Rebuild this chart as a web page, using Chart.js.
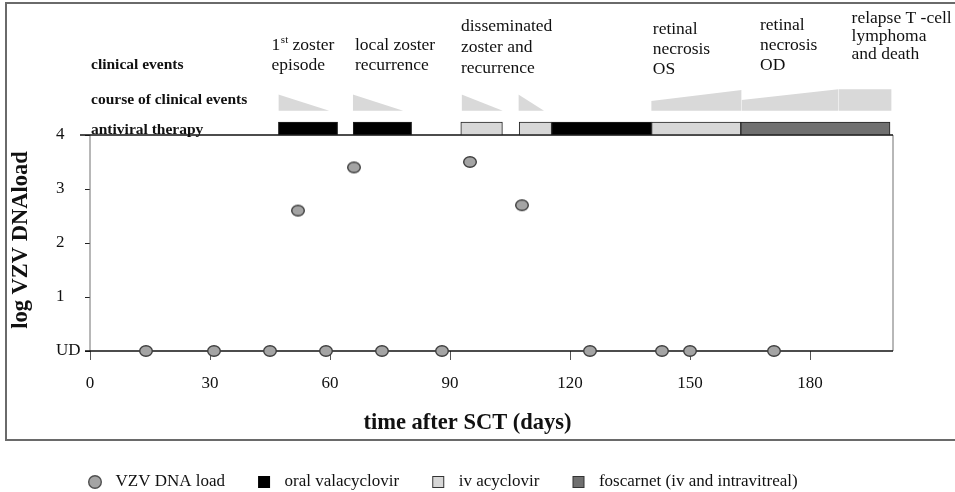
<!DOCTYPE html>
<html>
<head>
<meta charset="utf-8">
<script src="https://cdn.jsdelivr.net/npm/chart.js@4.4.1/dist/chart.umd.min.js"></script>
<style>
  html, body { margin: 0; padding: 0; background: #ffffff; }
  canvas { display: block; }
</style>
</head>
<body>
<canvas id="chart" width="955" height="492"></canvas>
<script>
// ---- data -------------------------------------------------------------
// VZV DNA load per sample (log copies, 0 = undetectable "UD")
const sampleDays = [14, 31, 45, 52, 59, 66, 73, 88, 95, 108, 125, 143, 150, 171];
const logLoad    = [0, 0, 0, 2.6, 0, 3.4, 0, 0, 3.5, 2.7, 0, 0, 0, 0];

// antiviral therapy periods, [first day, last day]
const valacyclovirPeriods = [[47.1, 61.9], [65.8, 80.4], [115.4, 140.4]];
const acyclovirPeriods    = [[92.7, 103.1], [107.3, 115.4], [140.4, 162.7]];
const foscarnetPeriods    = [[162.7, 200]];

// course of clinical events: segment start/end day and severity at both ends
const courseStart   = [47.1, 65.7, 92.9, 107.1, 140.3, 162.9, 187.1];
const courseEnd     = [59.8, 78.3, 103.2, 113.5, 162.9, 187.1, 200.4];
const severityStart = [3, 3, 3, 3, 1.8, 2, 3.95];
const severityEnd   = [0, 0, 0, 0, 3.85, 3.95, 3.95];

// clinical events, anchored at the day they start
const eventDays = [45.4, 66.25, 92.75, 140.7, 167.5, 190.4];
const eventLabels = [
  ['1st zoster', 'episode'],
  ['local zoster', 'recurrence'],
  ['disseminated', 'zoster and', 'recurrence'],
  ['retinal', 'necrosis', 'OS'],
  ['retinal', 'necrosis', 'OD'],
  ['relapse T -cell', 'lymphoma', 'and death']
];

const rowLabels   = ['clinical events', 'course of clinical events', 'antiviral therapy'];
const xTicks      = [0, 30, 60, 90, 120, 150, 180];
const yTicks      = [0, 1, 2, 3, 4];
const yTickText   = ['UD', '1', '2', '3', '4'];
const xTitle      = 'time after SCT (days)';
const yTitle      = 'log VZV DNAload';
const seriesNames = ['VZV DNA load', 'oral valacyclovir', 'iv acyclovir', 'foscarnet (iv and intravitreal)'];

// ---- layout & style ----------------------------------------------------
const FONT = "'Liberation Serif', 'Times New Roman', serif";
Chart.defaults.font.family = FONT;
Chart.defaults.color = '#111';

const Y_MAX = 4.9;            // room above the plot for the annotation band
const THERAPY_ROW = 4.12;     // centre of the therapy bars (y units)
const COURSE_BASE = 4.45;     // baseline of the course wedges (y units)
const SEVERITY_UNIT = 0.1;    // y units per severity step

const ROW_LABEL_Y = [65, 100, 130];
const EVENT_TOP   = [45, 45, 26.5, 29.5, 25, 18.3];
const EVENT_STEP  = [20, 20, 20.8, 19.8, 20, 18];
const X_TITLE_POS = [467.5, 423];
const Y_TITLE_X   = 21;

const COLORS = {
  point: '#a4a4a4', pointEdge: '#3e3e3e',
  oral: '#000000', iv: '#d7d7d7', foscarnet: '#707070',
  barEdge: '#222222', course: '#d9d9d9'
};

function ellipseIcon(w, h, fill, stroke) {
  const c = document.createElement('canvas');
  c.width = w + 2; c.height = h + 2;
  const g = c.getContext('2d');
  g.beginPath();
  g.ellipse(c.width / 2, c.height / 2, w / 2 - 0.7, h / 2 - 0.7, 0, 0, Math.PI * 2);
  g.fillStyle = fill; g.fill();
  g.lineWidth = 1.4; g.strokeStyle = stroke; g.stroke();
  return c;
}
function squareIcon(s, fill, stroke) {
  const c = document.createElement('canvas');
  c.width = s + 2; c.height = s + 2;
  const g = c.getContext('2d');
  g.fillStyle = fill; g.fillRect(1, 1, s, s);
  g.lineWidth = 1; g.strokeStyle = stroke; g.strokeRect(1.5, 1.5, s - 1, s - 1);
  return c;
}

const pointIcon = ellipseIcon(14, 12, COLORS.point, COLORS.pointEdge);

function therapyDataset(label, periods, color, icon) {
  return {
    type: 'bar', label, indexAxis: 'y', grouped: false,
    data: periods.map(p => ({ x: p, y: THERAPY_ROW })),
    backgroundColor: color, borderColor: COLORS.barEdge, borderWidth: 1,
    borderSkipped: false, barThickness: 13, legendIcon: icon, order: 2
  };
}

const courseDatasets = courseStart.map((s, i) => ({
  type: 'line', label: 'course',
  data: [
    { x: s, y: COURSE_BASE + severityStart[i] * SEVERITY_UNIT },
    { x: courseEnd[i], y: COURSE_BASE + severityEnd[i] * SEVERITY_UNIT }
  ],
  fill: { value: COURSE_BASE }, backgroundColor: COLORS.course,
  borderWidth: 0, pointRadius: 0, tension: 0, order: 3
}));

const datasets = [
  {
    type: 'scatter', label: seriesNames[0],
    data: sampleDays.map((d, i) => ({ x: d, y: logLoad[i] })),
    pointStyle: pointIcon, pointRadius: 7, clip: false, order: 0,
    legendIcon: ellipseIcon(14, 14, COLORS.point, '#505050')
  },
  therapyDataset(seriesNames[1], valacyclovirPeriods, COLORS.oral, squareIcon(12, COLORS.oral, '#000')),
  therapyDataset(seriesNames[2], acyclovirPeriods, COLORS.iv, squareIcon(12, COLORS.iv, '#333')),
  therapyDataset(seriesNames[3], foscarnetPeriods, COLORS.foscarnet, squareIcon(12, COLORS.foscarnet, '#333')),
  ...courseDatasets
];

// writes "1st ..." with a raised ordinal suffix
function drawEventLine(ctx, text, x, y) {
  const m = /^(\d+)(st|nd|rd|th)(.*)$/.exec(text);
  if (!m) { ctx.fillText(text, x, y); return; }
  const baseFont = ctx.font;
  ctx.fillText(m[1], x, y);
  let cx = x + ctx.measureText(m[1]).width + 0.5;
  ctx.font = `11px ${FONT}`;
  ctx.fillText(m[2], cx, y - 5);
  cx += ctx.measureText(m[2]).width;
  ctx.font = baseFont;
  ctx.fillText(m[3], cx, y);
}

const frameAndLabels = {
  id: 'frameAndLabels',
  beforeDatasetsDraw(chart) {
    const { ctx, chartArea, scales: { x, y } } = chart;
    const yBase = y.getPixelForValue(yTicks[0]);
    const yTop = y.getPixelForValue(yTicks[yTicks.length - 1]);
    const xLeft = x.getPixelForValue(0);
    const xRight = chartArea.right;
    const seg = (x1, y1, x2, y2) => { ctx.beginPath(); ctx.moveTo(x1, y1); ctx.lineTo(x2, y2); ctx.stroke(); };
    ctx.save();
    // outer figure border
    ctx.strokeStyle = '#6a6a6a'; ctx.lineWidth = 2;
    ctx.strokeRect(6, 3, chart.width + 10, 437);
    // plot side lines
    ctx.strokeStyle = '#707070'; ctx.lineWidth = 1;
    seg(xLeft, yTop, xLeft, yBase);
    seg(xRight, yTop, xRight, yBase);
    // top line (through the "4" tick) and UD baseline
    ctx.strokeStyle = '#111'; ctx.lineWidth = 1.4;
    seg(xLeft - 10, yTop, xRight, yTop);
    seg(xLeft - 5, yBase, xRight, yBase);
    ctx.restore();
  },
  afterDraw(chart) {
    const { ctx, scales: { x, y } } = chart;
    const xLeft = x.getPixelForValue(0);
    const yMid = (y.getPixelForValue(yTicks[0]) + y.getPixelForValue(yTicks[yTicks.length - 1])) / 2;
    ctx.save();
    ctx.fillStyle = '#111';
    ctx.textBaseline = 'middle';
    ctx.textAlign = 'left';
    ctx.font = `bold 15.5px ${FONT}`;
    rowLabels.forEach((t, i) => ctx.fillText(t, xLeft + 1, ROW_LABEL_Y[i]));
    ctx.font = `17.5px ${FONT}`;
    eventLabels.forEach((lines, i) => {
      const lx = x.getPixelForValue(eventDays[i]);
      lines.forEach((t, j) => drawEventLine(ctx, t, lx, EVENT_TOP[i] + j * EVENT_STEP[i]));
    });
    ctx.font = `bold 22.5px ${FONT}`;
    ctx.textAlign = 'center';
    ctx.fillText(xTitle, X_TITLE_POS[0], X_TITLE_POS[1]);
    ctx.translate(Y_TITLE_X, yMid - 3);
    ctx.rotate(-Math.PI / 2);
    ctx.fillText(yTitle, 0, 0);
    ctx.restore();
  }
};

new Chart(document.getElementById('chart'), {
  type: 'scatter',
  data: { datasets },
  plugins: [frameAndLabels],
  options: {
    responsive: false,
    animation: false,
    devicePixelRatio: 1,
    layout: { padding: { left: 56, right: 62, top: 86.4, bottom: -8.5 } },
    scales: {
      x: {
        type: 'linear', min: 0, max: 200.75, offset: false,
        afterBuildTicks: s => { s.ticks = xTicks.map(v => ({ value: v })); },
        afterFit: s => { s.height = 95.5; },
        grid: { drawOnChartArea: false, offset: false, tickLength: 9, color: '#555' },
        border: { display: false },
        ticks: { font: { size: 17 }, color: '#111', padding: 13, maxRotation: 0, autoSkip: false }
      },
      y: {
        type: 'linear', min: 0, max: Y_MAX, offset: false,
        afterBuildTicks: s => { s.ticks = yTicks.map(v => ({ value: v })); },
        afterFit: s => { s.width = 34; },
        grid: { drawOnChartArea: false, offset: false, tickLength: 5, color: '#222' },
        border: { display: false },
        ticks: {
          crossAlign: 'far', font: { size: 17 }, color: '#111', autoSkip: false,
          callback: v => yTickText[yTicks.indexOf(v)]
        }
      }
    },
    plugins: {
      tooltip: { enabled: false },
      legend: {
        position: 'bottom', align: 'start',
        labels: {
          usePointStyle: true, pointStyleWidth: 24, padding: 27,
          font: { size: 17 }, color: '#111',
          generateLabels(chart) {
            return chart.data.datasets
              .map((ds, i) => ({ ds, i }))
              .filter(o => o.ds.legendIcon)
              .map(({ ds, i }) => ({
                text: ds.label, pointStyle: ds.legendIcon, datasetIndex: i,
                hidden: false, fillStyle: 'transparent', strokeStyle: 'transparent',
                lineWidth: 0, fontColor: '#111'
              }));
          }
        }
      }
    }
  }
});
</script>
</body>
</html>
